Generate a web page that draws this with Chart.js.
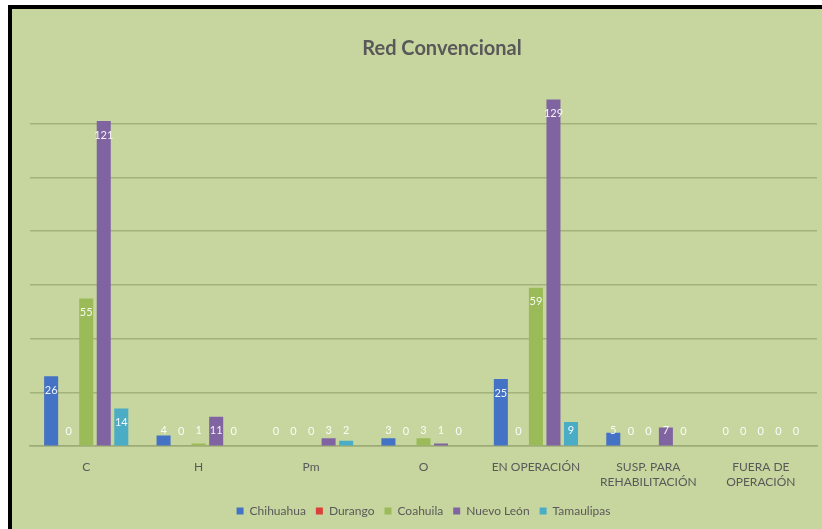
<!DOCTYPE html>
<html>
<head>
<meta charset="utf-8">
<script src="https://cdn.jsdelivr.net/npm/chart.js@4.4.0/dist/chart.umd.min.js"></script>
<style>
  html, body { margin: 0; padding: 0; background: #ffffff; width: 822px; height: 529px; overflow: hidden; }
  #frame { position: absolute; left: 8px; top: 5px; width: 810px; height: 520px;
           border-left: 4px solid #000; border-top: 4px solid #000; background: #C7D69F; }
  #wrap { position: absolute; left: 0; top: 0; width: 810px; height: 520px; }
</style>
</head>
<body>
<div id="frame"><div id="wrap"><canvas id="c"></canvas></div></div>
<script>
const categories = ["C", "H", "Pm", "O", "EN OPERACIÓN", ["SUSP. PARA", "REHABILITACIÓN"], ["FUERA DE", "OPERACIÓN"]];
const seriesNames = ["Chihuahua", "Durango", "Coahuila", "Nuevo León", "Tamaulipas"];
const chihuahua = [26, 4, 0, 3, 25, 5, 0];
const durango   = [0, 0, 0, 0, 0, 0, 0];
const coahuila  = [55, 1, 0, 3, 59, 0, 0];
const nuevoLeon = [121, 11, 3, 1, 129, 7, 0];
const tamaulipas = [14, 0, 2, 0, 9, 0, 0];
const colors = ["#4472C4", "#D9403A", "#9BBB59", "#8064A2", "#4BACC6"];
const titleText = "Red Convencional";

const seriesValues = [chihuahua, durango, coahuila, nuevoLeon, tamaulipas];

const labelPlugin = {
  id: 'barLabels',
  afterDatasetsDraw(chart) {
    const ctx = chart.ctx;
    ctx.save();
    ctx.font = '11px Lato, "DejaVu Sans", sans-serif';
    ctx.fillStyle = 'rgba(255,255,255,0.92)';
    ctx.textAlign = 'center';
    ctx.textBaseline = 'middle';
    chart.data.datasets.forEach((ds, di) => {
      const meta = chart.getDatasetMeta(di);
      meta.data.forEach((el, i) => {
        const y = Math.min(el.y + 14, el.base - 15);
        ctx.fillText(String(ds.data[i]), el.x, y);
      });
    });
    ctx.restore();
  }
};

const titlePlugin = {
  id: 'customTitle',
  afterDraw(chart) {
    const ctx = chart.ctx;
    ctx.save();
    ctx.font = 'bold 20px Lato, "DejaVu Sans", sans-serif';
    ctx.fillStyle = '#595959';
    ctx.textAlign = 'center';
    ctx.textBaseline = 'middle';
    ctx.fillText(titleText, 430, 40);
    ctx.restore();
  }
};

new Chart(document.getElementById('c'), {
  type: 'bar',
  data: {
    labels: categories,
    datasets: seriesNames.map((n, i) => ({
      label: n,
      data: seriesValues[i],
      backgroundColor: colors[i],
      borderWidth: 0,
      categoryPercentage: 0.78,
      barPercentage: 0.8
    }))
  },
  options: {
    responsive: true,
    maintainAspectRatio: false,
    animation: false,
    layout: { padding: { left: 18, right: 5, top: 61, bottom: 2 } },
    plugins: {
      title: { display: false },
      tooltip: { enabled: false },
      legend: {
        position: 'bottom',
        labels: {
          boxWidth: 7, boxHeight: 7, padding: 10,
          color: '#595959',
          font: { family: 'Lato, "DejaVu Sans", sans-serif', size: 12 }
        }
      }
    },
    scales: {
      x: {
        grid: { display: false },
        border: { display: true, color: '#9CAB78', width: 1.5 },
        ticks: {
          color: '#595959', padding: 6, maxRotation: 0, autoSkip: false,
          font: { family: 'Lato, "DejaVu Sans", sans-serif', size: 12 }
        }
      },
      y: {
        min: 0, max: 140,
        ticks: { display: false, stepSize: 20 },
        grid: {
          color: (c) => (c.tick && c.tick.value >= 140) ? 'rgba(0,0,0,0)' : '#A3B27D',
          lineWidth: 1.5, drawTicks: false
        },
        border: { display: false }
      }
    }
  },
  plugins: [labelPlugin, titlePlugin]
});
</script>
</body>
</html>
